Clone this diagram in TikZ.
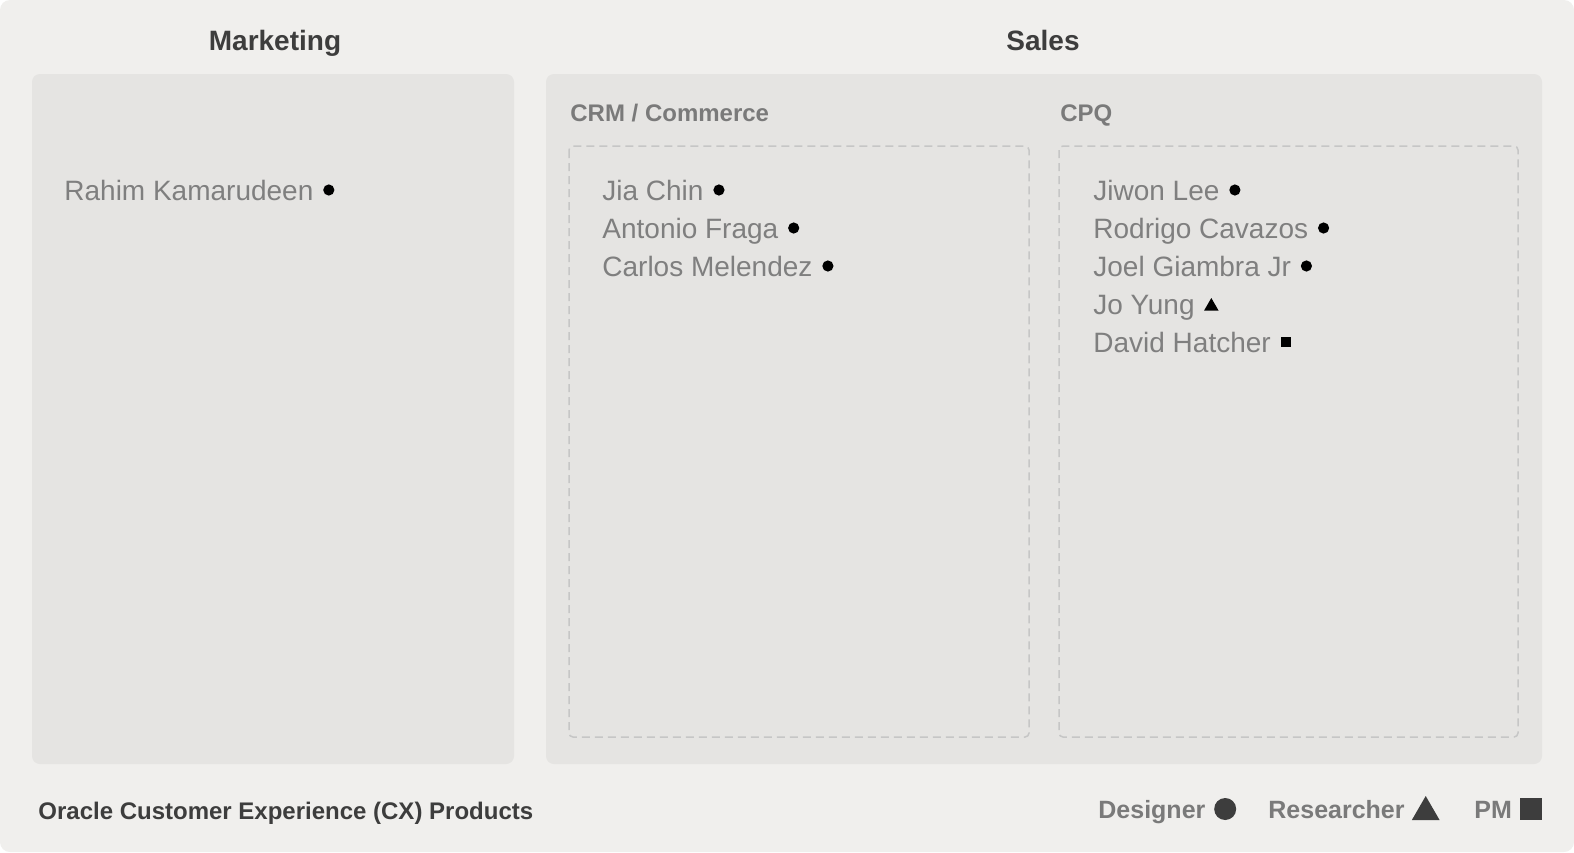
\documentclass[tikz,border=0pt]{standalone}
\usepackage{fontspec}
\setmainfont{Liberation Sans}
\usetikzlibrary{positioning,shapes.geometric}

\definecolor{pagebg}{HTML}{F0EFED}
\definecolor{panelbg}{HTML}{E5E4E2}
\definecolor{dashgray}{HTML}{C6C6C6}
\definecolor{headdark}{HTML}{3D3D3D}
\definecolor{subgray}{HTML}{7A7A7A}
\definecolor{namegray}{HTML}{7F7F7F}

\begin{document}
\begin{tikzpicture}[
    x=0.5pt, y=-0.5pt,
    panel/.style={fill=panelbg, draw=none, rounded corners=4pt},
    teambox/.style={draw=dashgray, line width=0.75pt, dash pattern=on 4pt off 2.5pt, rounded corners=2pt},
    grouptitle/.style={font=\fontsize{14}{16}\selectfont\bfseries, text=headdark, inner sep=0pt, text height=10pt, text depth=0pt},
    teamtitle/.style={font=\fontsize{12}{14}\selectfont\bfseries, text=subgray, inner sep=0pt, text height=8.6pt, text depth=0pt, anchor=west},
    person/.style={font=\fontsize{14}{16}\selectfont, text=namegray, inner sep=0pt, text height=10pt, text depth=0pt, anchor=west},
    designer/.style={circle, fill=black, inner sep=0pt, minimum size=5.6pt, right=4.5pt of #1},
    researcher/.style={regular polygon, regular polygon sides=3, fill=black, inner sep=0pt, minimum size=8.4pt, right=5.5pt of #1, yshift=-1.2pt},
    pm/.style={rectangle, fill=black, inner sep=0pt, minimum size=5.4pt, right=4.5pt of #1},
    legendtext/.style={font=\fontsize{12.5}{14}\selectfont\bfseries, text=subgray, inner sep=0pt, text height=9pt, text depth=0pt, anchor=west}
]

% page and bounds
\fill[white] (0,0) rectangle (1574,852);
\fill[pagebg, rounded corners=5pt] (0,0) rectangle (1574,852);
\useasboundingbox (0,0) rectangle (1574,852);

% panels
\path[panel] (32,74) rectangle (514,764);
\path[panel] (546,74) rectangle (1542,764);
\draw[teambox] (569,146) rectangle (1029,737);
\draw[teambox] (1059,146) rectangle (1518,737);

% group titles
\node[grouptitle] (marketing) at (275,40) {Marketing};
\node[grouptitle] (sales) at (1043,40) {Sales};
\node[teamtitle] (crm) at (570,113) {CRM / Commerce};
\node[teamtitle] (cpq) at (1060,113) {CPQ};

% Marketing
\node[person] (rahim) at (64,190) {Rahim Kamarudeen};
\node[designer=rahim] (rahimmk) {};

% CRM / Commerce
\node[person] (jia) at (602,190) {Jia Chin};
\node[designer=jia] (jiamk) {};
\node[person] (antonio) at (602,228) {Antonio Fraga};
\node[designer=antonio] (antoniomk) {};
\node[person] (carlos) at (602,266) {Carlos Melendez};
\node[designer=carlos] (carlosmk) {};

% CPQ
\node[person] (jiwon) at (1093,190) {Jiwon Lee};
\node[designer=jiwon] (jiwonmk) {};
\node[person] (rodrigo) at (1093,228) {Rodrigo Cavazos};
\node[designer=rodrigo] (rodrigomk) {};
\node[person] (joel) at (1093,266) {Joel Giambra Jr};
\node[designer=joel] (joelmk) {};
\node[person] (jo) at (1093,304) {Jo Yung};
\node[researcher=jo] (jomk) {};
\node[person] (david) at (1093,342) {David Hatcher};
\node[pm=david] (davidmk) {};

% footer
\node[legendtext, font=\fontsize{12}{14}\selectfont\bfseries, text=headdark] (org) at (38,810) {Oracle Customer Experience (CX) Products};

% legend
\node[legendtext] (lgdes) at (1098,809) {Designer};
\node[circle, fill=headdark, inner sep=0pt, minimum size=11pt, right=4pt of lgdes] (lgdesmk) {};
\node[legendtext] (lgres) at (1268,809) {Researcher};
\node[regular polygon, regular polygon sides=3, fill=headdark, inner sep=0pt, minimum size=16pt, right=5.5pt of lgres, yshift=-1.5pt] (lgresmk) {};
\node[legendtext] (lgpm) at (1474,809) {PM};
\node[rectangle, fill=headdark, inner sep=0pt, minimum size=11pt, right=3.5pt of lgpm] (lgpmmk) {};

\end{tikzpicture}
\end{document}
